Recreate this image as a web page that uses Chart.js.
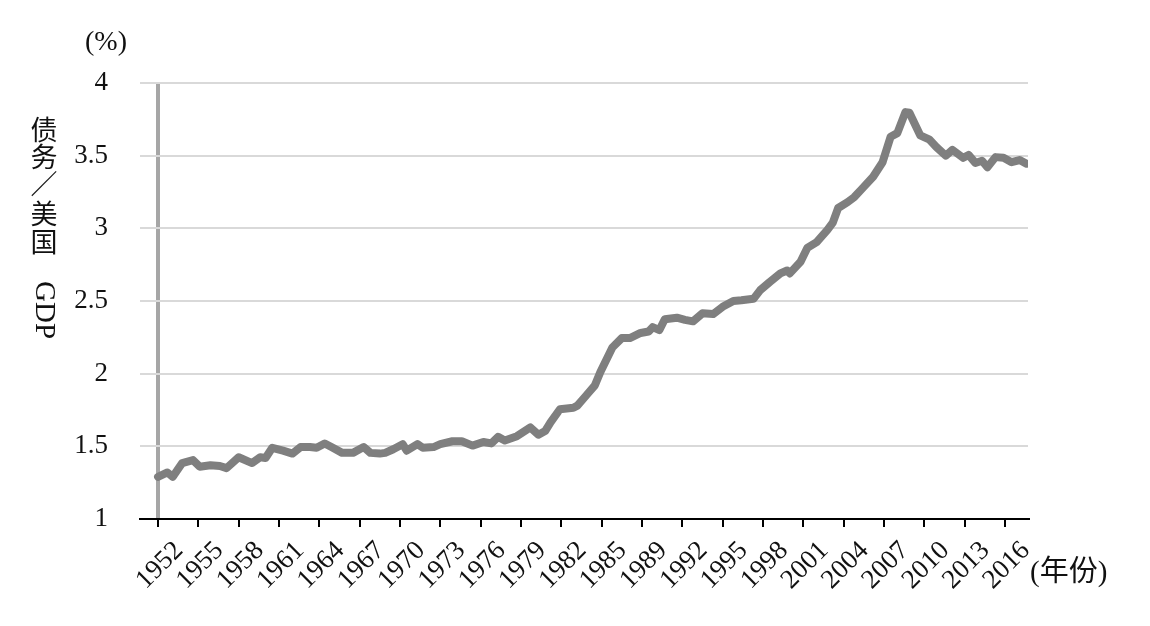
<!DOCTYPE html>
<html>
<head>
<meta charset="utf-8">
<script src="https://cdn.jsdelivr.net/npm/chart.js@4.4.1/dist/chart.umd.min.js"></script>
<style>
  html, body { margin: 0; padding: 0; background: #fff; }
</style>
</head>
<body>
<canvas id="chart" width="1150" height="626"></canvas>
<script>
// position along the time axis (in years, one tick every 3 years from 1952)
const xYears = [
  1952.0, 1952.7, 1953.1, 1953.8, 1954.6, 1955.1, 1955.9, 1956.6, 1957.1, 1958.0,
  1959.0, 1959.6, 1960.0, 1960.5, 1961.3, 1962.0, 1962.6, 1963.3, 1963.8, 1964.4,
  1964.9, 1965.7, 1966.5, 1967.3, 1967.8, 1968.5, 1968.9, 1969.5, 1970.2, 1970.5,
  1971.3, 1971.7, 1972.5, 1973.0, 1973.9, 1974.6, 1975.4, 1976.2, 1976.8, 1977.3,
  1977.8, 1978.7, 1979.7, 1980.3, 1980.8, 1981.2, 1981.9, 1982.9, 1983.2, 1983.9,
  1984.5, 1984.9, 1985.8, 1986.5, 1987.1, 1987.9, 1988.5, 1988.8, 1989.3, 1989.7,
  1990.6, 1991.2, 1991.8, 1992.5, 1993.3, 1994.0, 1994.8, 1995.4, 1996.3, 1996.8,
  1997.5, 1998.3, 1998.8, 1999.0, 1999.8, 2000.3, 2001.0, 2001.8, 2002.2, 2002.6,
  2003.3, 2003.8, 2004.4, 2005.2, 2005.9, 2006.5, 2007.0, 2007.6, 2007.9, 2008.7,
  2009.4, 2009.9, 2010.6, 2011.1, 2011.9, 2012.3, 2012.8, 2013.3, 2013.7, 2014.3,
  2014.9, 2015.5, 2016.1, 2016.6
];

const debtRatio = [
  1.29, 1.32, 1.29, 1.385, 1.405, 1.36, 1.37, 1.365, 1.35, 1.425,
  1.385, 1.425, 1.42, 1.49, 1.47, 1.45, 1.495, 1.495, 1.49, 1.52,
  1.495, 1.455, 1.455, 1.495, 1.455, 1.45, 1.455, 1.48, 1.515, 1.47,
  1.515, 1.49, 1.495, 1.515, 1.535, 1.535, 1.505, 1.53, 1.52, 1.565,
  1.54, 1.57, 1.63, 1.58, 1.605, 1.665, 1.755, 1.765, 1.78, 1.855,
  1.92, 2.01, 2.18, 2.245, 2.245, 2.28, 2.29, 2.32, 2.30, 2.375,
  2.385, 2.37, 2.36, 2.415, 2.41, 2.46, 2.50, 2.505, 2.515, 2.575,
  2.63, 2.69, 2.71, 2.69, 2.77, 2.865, 2.905, 2.99, 3.04, 3.14,
  3.18, 3.215, 3.275, 3.355, 3.455, 3.63, 3.655, 3.80, 3.795, 3.64,
  3.61, 3.56, 3.50, 3.54, 3.485, 3.505, 3.45, 3.465, 3.42, 3.49,
  3.485, 3.455, 3.47, 3.445
];

const tickYears = [1952, 1955, 1958, 1961, 1964, 1967, 1970, 1973, 1976, 1979, 1982,
  1985, 1988, 1991, 1994, 1997, 2000, 2003, 2006, 2009, 2012, 2015];
const tickLabels = ["1952", "1955", "1958", "1961", "1964", "1967", "1970", "1973",
  "1976", "1979", "1982", "1985", "1989", "1992", "1995", "1998", "2001", "2004",
  "2007", "2010", "2013", "2016"];

const yTitleCJK = ["债", "务", "／", "美", "国"];
const yTitleLatin = "GDP";
const yUnit = "(%)";
const xUnit = "(年份)";

const SERIF = '"Liberation Serif", "Times New Roman", serif';
const MIXED = '"Liberation Serif", "Noto Sans CJK SC", serif';

const points = xYears.map((x, i) => ({ x: x, y: debtRatio[i] }));

const textPlugin = {
  id: "extraText",
  afterDraw(chart) {
    const ctx = chart.ctx;
    ctx.save();
    ctx.fillStyle = "#111";
    ctx.textAlign = "center";
    ctx.textBaseline = "middle";
    ctx.font = "28px " + SERIF;
    ctx.fillText(yUnit, 106, 43);

    ctx.font = '27px "Noto Sans CJK SC", sans-serif';
    const cjkY = [130, 157, 184, 214, 242];
    yTitleCJK.forEach((c, i) => ctx.fillText(c, 44, cjkY[i]));

    ctx.save();
    ctx.translate(44, 310);
    ctx.rotate(Math.PI / 2);
    ctx.font = "29px " + SERIF;
    ctx.fillText(yTitleLatin, 0, 0);
    ctx.restore();

    ctx.textAlign = "left";
    ctx.font = "29px " + MIXED;
    ctx.fillText(xUnit, 1030, 573);
    ctx.restore();
  }
};

new Chart(document.getElementById("chart"), {
  type: "line",
  data: {
    datasets: [{
      data: points,
      borderColor: "#7f7f7f",
      borderWidth: 8,
      borderJoinStyle: "round",
      borderCapStyle: "round",
      pointRadius: 0,
      tension: 0,
      fill: false
    }]
  },
  options: {
    responsive: false,
    animation: false,
    layout: { padding: { top: 83, right: 122, left: 0, bottom: 0 } },
    plugins: { legend: { display: false }, tooltip: { enabled: false } },
    scales: {
      x: {
        type: "linear",
        min: 1950.66,
        max: 2016.72,
        afterFit(scale) { scale.height = 107; },
        afterBuildTicks(scale) {
          scale.ticks = tickYears.map(v => ({ value: v }));
        },
        border: { display: true, color: "#000", width: 2 },
        grid: {
          drawOnChartArea: true,
          color: c => (c.tick && c.tick.value === 1952) ? "#a6a6a6" : "rgba(0,0,0,0)",
          lineWidth: c => (c.tick && c.tick.value === 1952) ? 4 : 0,
          tickColor: "#000",
          tickWidth: 2,
          tickLength: 8
        },
        ticks: {
          autoSkip: false,
          minRotation: 45,
          maxRotation: 45,
          padding: 8,
          labelOffset: 21,
          color: "#111",
          font: { family: SERIF, size: 27 },
          callback: (v, i) => tickLabels[i]
        }
      },
      y: {
        min: 1,
        max: 4,
        afterFit(scale) { scale.width = 140; },
        border: { display: false },
        grid: { color: "#d9d9d9", lineWidth: 2, drawTicks: false },
        ticks: {
          stepSize: 0.5,
          padding: 32,
          color: "#111",
          font: { family: SERIF, size: 27 },
          callback: v => String(v)
        }
      }
    }
  },
  plugins: [textPlugin]
});
</script>
</body>
</html>
